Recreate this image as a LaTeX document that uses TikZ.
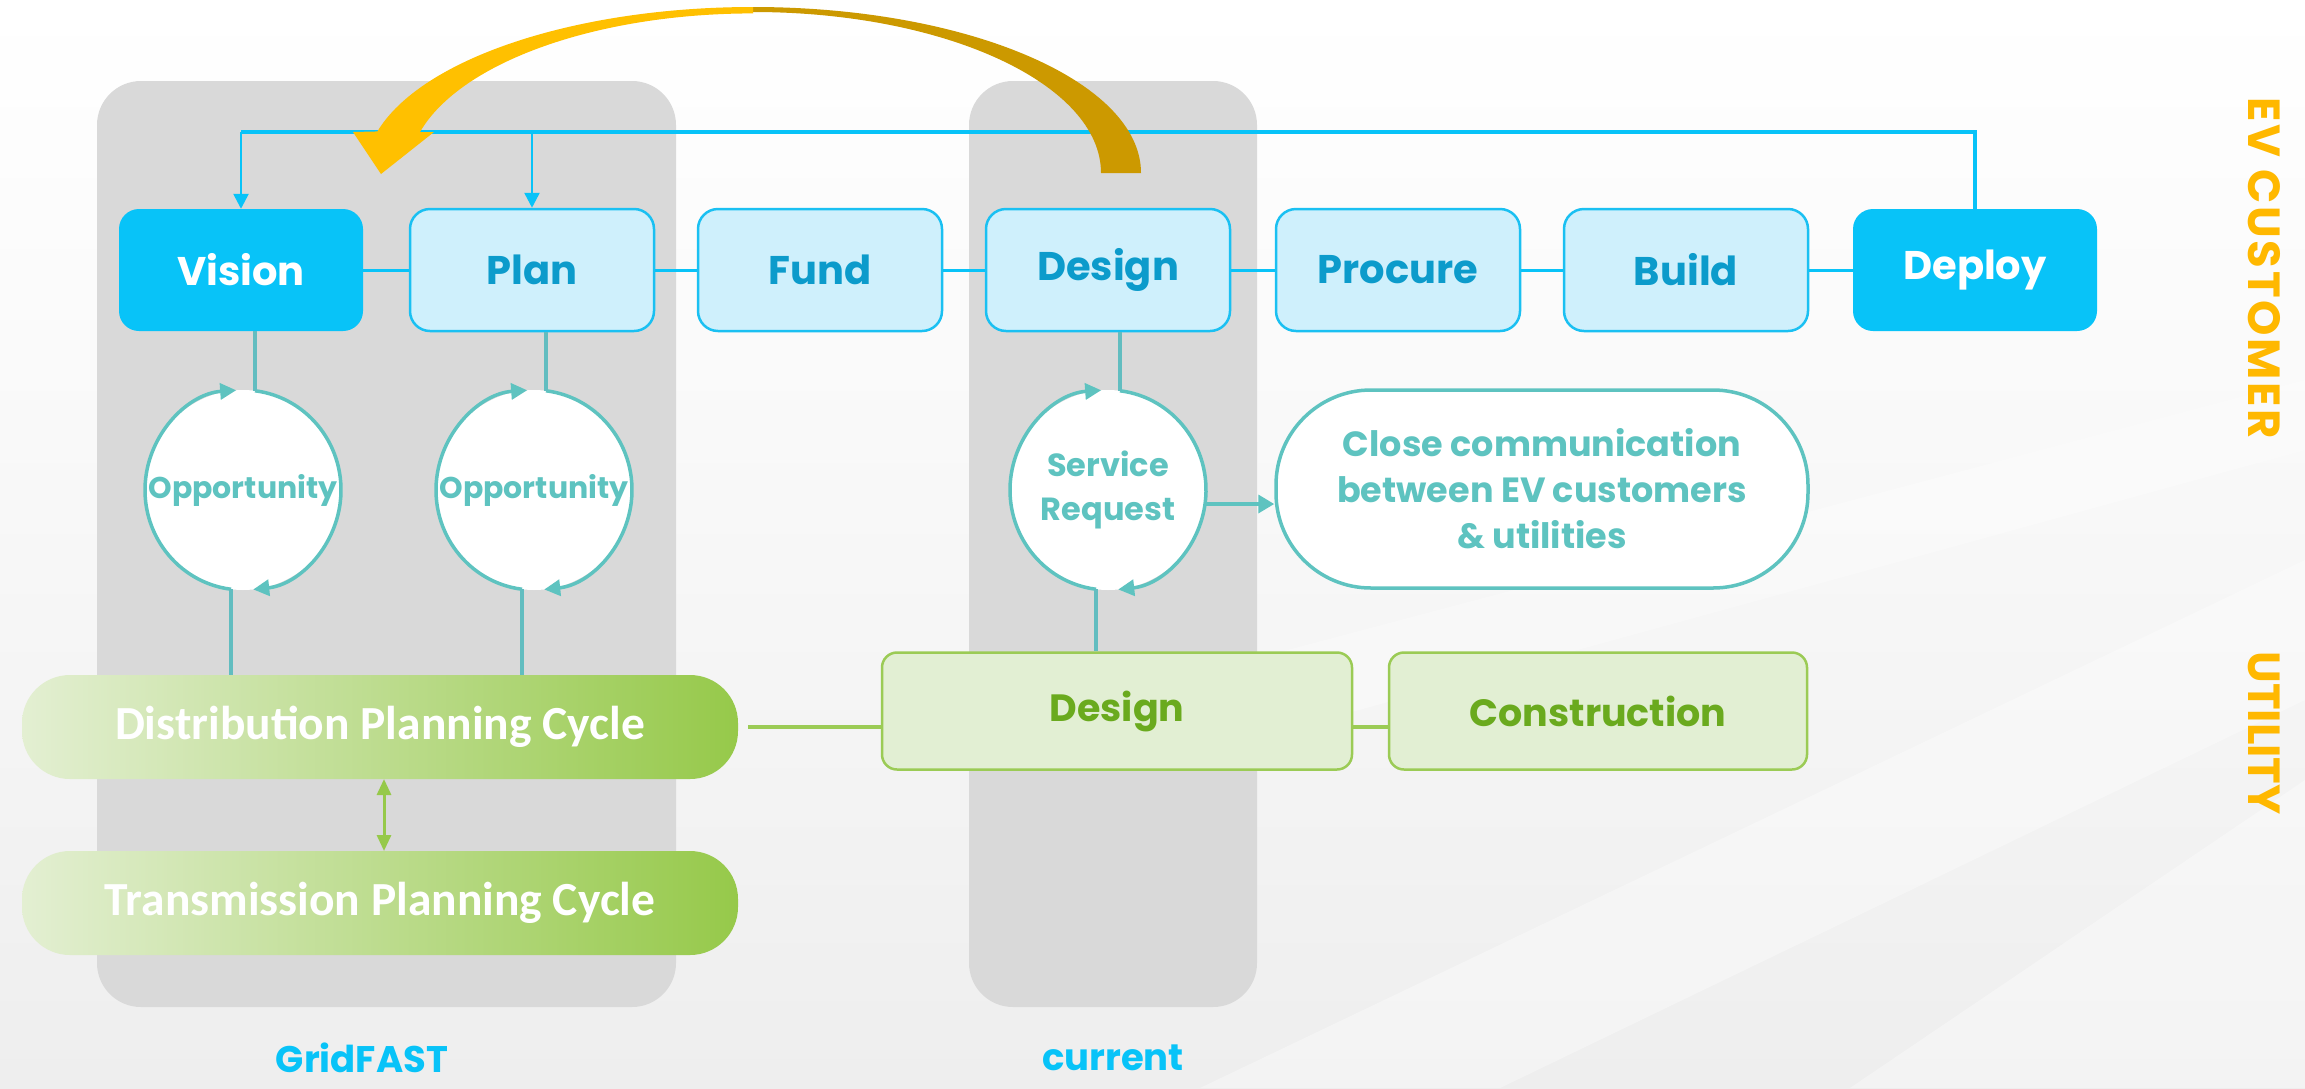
\documentclass[tikz,border=0pt]{standalone}
\usepackage{fontspec}
\setmainfont{Poppins}
\newfontfamily\calib{Carlito}
\usetikzlibrary{arrows.meta,shapes.geometric,calc}
\definecolor{cyanA}{HTML}{08C3F8}
\definecolor{cyanL}{HTML}{CFF0FC}
\definecolor{cyanB}{HTML}{1AC0F2}
\definecolor{blueT}{HTML}{0C9BCB}
\definecolor{tealC}{HTML}{5EC3C0}
\definecolor{tealL}{HTML}{62BDC0}
\definecolor{gL}{HTML}{E3EFD2}
\definecolor{gR}{HTML}{96C94A}
\definecolor{gF}{HTML}{E2EFD3}
\definecolor{gB}{HTML}{9BCB55}
\definecolor{gT}{HTML}{6AAA1E}
\definecolor{gold}{HTML}{FFB800}
\definecolor{goldL}{HTML}{FFC000}
\definecolor{goldD}{HTML}{CC9900}
\definecolor{panel}{HTML}{D9D9D9}
\definecolor{bgB}{HTML}{EEEEEE}
\begin{document}
\begin{tikzpicture}[x=1pt,y=-1pt,
  topdark/.style={rounded corners=20, fill=cyanA, minimum width=244, minimum height=122, inner sep=0, text=white, font=\fontsize{40}{42}\selectfont\bfseries},
  toplight/.style={rounded corners=20, fill=cyanL, draw=cyanB, line width=2.5, minimum width=244, minimum height=122, inner sep=0, text=blueT, font=\fontsize{40}{42}\selectfont\bfseries},
  bline/.style={draw=cyanA, line width=3},
  cyc/.style={ellipse, fill=white, minimum width=196, minimum height=200, inner sep=0},
  cyctext/.style={text=tealC, font=\fontsize{30}{40}\selectfont\bfseries, align=center, inner sep=0},
  cycarrow/.style={draw=tealC, line width=3.5, -{Triangle[length=16,width=16]}},
  tline/.style={draw=tealL, line width=3.5},
  closebox/.style={rounded corners=95, draw=tealC, line width=3.5, fill=white, minimum width=532, minimum height=198, text=tealC, align=center, font=\fontsize{35}{46}\selectfont\bfseries},
  gcyc/.style={rounded corners=48, left color=gL, right color=gR, minimum width=716, minimum height=104, inner sep=0, text=white, font=\calib\fontsize{47.5}{50}\selectfont\bfseries},
  gbox/.style={rounded corners=15, fill=gF, draw=gB, line width=2.5, minimum height=117, inner sep=0, text=gT, font=\fontsize{38}{40}\selectfont\bfseries},
  gline/.style={draw=gB, line width=3.5},
  lbl/.style={text=cyanA, font=\fontsize{37}{40}\selectfont\bfseries},
  side/.style={text=gold, font=\fontsize{45}{48}\selectfont\bfseries, rotate=-90}
]
\useasboundingbox (0,0) rectangle (2305,1088);
% background
\shade[top color=white, bottom color=bgB, middle color=white!55!bgB] (0,0) rectangle (2305,1088);
\fill[white, opacity=0.35] (1200,1088) -- (2305,560) -- (2305,700) -- (1500,1088) -- cycle;
\fill[white, opacity=0.35] (1850,1088) -- (2305,780) -- (2305,1088) -- cycle;
\fill[white, opacity=0.3] (1250,660) -- (2305,380) -- (2305,450) -- (1250,740) -- cycle;
% panels
\fill[panel, rounded corners=44] (97,81) rectangle (676,1007);
\fill[panel, rounded corners=44] (969,81) rectangle (1257,1007);
% top boxes
\node[topdark]  (vision)  at (241,270)  {Vision};
\node[toplight] (plan)    at (532,270)  {Plan};
\node[toplight] (fund)    at (820,270)  {Fund};
\node[toplight] (design)  at (1108,270) {Design};
\node[toplight] (procure) at (1398,270) {Procure};
\node[toplight] (build)   at (1686,270) {Build};
\node[topdark]  (deploy)  at (1975,270) {Deploy};
\draw[bline] (vision.east) -- (plan.west);
\draw[bline] (plan.east) -- (fund.west);
\draw[bline] (fund.east) -- (design.west);
\draw[bline] (design.east) -- (procure.west);
\draw[bline] (procure.east) -- (build.west);
\draw[bline] (build.east) -- (deploy.west);
\coordinate (top) at (0,132);
\draw[bline, line width=4] (deploy.north) |- (vision.north |- top);
\draw[bline, line width=2.5, -{Triangle[length=15,width=15]}] (vision.north |- top) -- (vision.north);
\draw[bline, line width=2.5, -{Triangle[length=15,width=15]}] (plan.north |- top) -- (plan.north);
% green boxes
\node[gcyc] (dist) at (380,727) {Distribution Planning Cycle};
\node[gcyc] (trans) at (380,903) {Transmission Planning Cycle};
\node[gbox, minimum width=470] (gdesign) at (1117,711) {Design};
\node[gbox, minimum width=418] (constr) at (1598,711) {Construction};
\draw[gline] ([xshift=10]dist.east) -- (dist.east -| gdesign.west);
\draw[gline] (gdesign.east |- dist.east) -- (constr.west |- dist.east);
\draw[draw=gR, line width=3, {Triangle[length=16,width=14]}-{Triangle[length=16,width=14]}] (384,779) -- (384,851);
% cycles
\node[cyc] (o1) at (243,490) {};
\node[cyc] (o2) at (534,490) {};
\node[cyc] (sr) at (1108,490) {};
\foreach \c in {o1,o2,sr}{
  \coordinate (\c t) at ($(\c.center)+(277:98 and 100)$);
  \coordinate (\c b) at ($(\c.center)+(97:98 and 100)$);
  \draw[cycarrow] (\c b) arc[start angle=97, end angle=266, x radius=98, y radius=100];
  \draw[cycarrow] (\c t) arc[start angle=277, end angle=444, x radius=98, y radius=100];
}
\node[cyctext] at (o1) {Opportunity};
\node[cyctext] at (o2) {Opportunity};
\node[cyctext, font=\fontsize{32}{44}\selectfont\bfseries] at (sr) {Service\\Request};
\draw[tline] (vision.south -| o1t) -- (o1t);
\draw[tline] (plan.south -| o2t) -- (o2t);
\draw[tline] (design.south -| srt) -- (srt);
\draw[tline] (o1b) -- (o1b |- dist.north);
\draw[tline] (o2b) -- (o2b |- dist.north);
\draw[tline] (srb) -- (srb |- gdesign.north);
\node[closebox] (close) at (1542,489) {Close communication\\between EV customers\\\& utilities};
\draw[draw=tealC, line width=3.5, -{Triangle[length=16,width=18]}] (sr.east |- 0,504) -- (close.west |- 0,504);
% golden curved arrow
\fill[goldD] (1141,173) arc[start angle=0, end angle=-90, x radius=388, y radius=166] -- (753,12) arc[start angle=-90, end angle=0, x radius=348, y radius=161] -- cycle;
\fill[goldL] (753,7) arc[start angle=-90, end angle=-165.5, x radius=388, y radius=166] -- (353,132) -- (381,174) -- (434,132) -- (420,132) arc[start angle=-165, end angle=-90, x radius=345, y radius=160] -- cycle;
% labels
\node[lbl] (gridfast) at (362,1058) {GridFAST};
\node[lbl] (current) at (1113,1058) {current};
\node[side, font=\fontsize{45}{48}\selectfont\bfseries\addfontfeature{LetterSpace=6}] (evc) at (2264,268) {EV CUSTOMER};
\node[side] (util) at (2264,733) {UTILITY};
\end{tikzpicture}
\end{document}
